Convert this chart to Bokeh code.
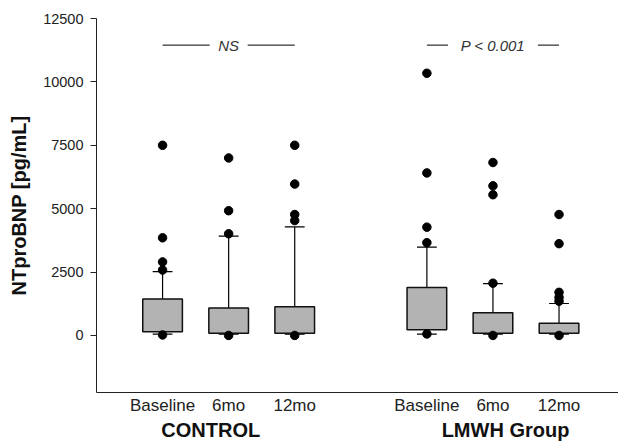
from bokeh.plotting import figure
from bokeh.models import FixedTicker, Range1d, ColumnDataSource
from bokeh.layouts import column
from bokeh.embed import file_html
from bokeh.resources import INLINE
from bokeh.core.properties import value

# ---- data ----
positions = [1, 2, 3, 5, 6, 7]
time_labels = ["Baseline", "6mo", "12mo", "Baseline", "6mo", "12mo"]
q1 = [150, 90, 90, 220, 90, 90]
median = [490, 350, 250, 590, 250, 250]
q3 = [1440, 1080, 1130, 1890, 900, 480]
upper = [2520, 3920, 4280, 3480, 2040, 1260]
lower = [50, 50, 50, 50, 50, 50]
outliers = [
    [7500, 3850, 2900, 2580, 20],
    [7000, 4920, 4010, 0],
    [7500, 5970, 4770, 4530, 0],
    [10340, 6410, 4270, 3660, 60],
    [6820, 5900, 5550, 2060, 0],
    [4770, 3620, 1700, 1500, 1350, 0],
]
groups = ["CONTROL", "LMWH Group"]
group_members = [[1, 2, 3], [5, 6, 7]]
group_label_x = [1.73, 6.19]
sig_text = ["NS", "P < 0.001"]
sig_level = 11450
y_ticks = [0, 2500, 5000, 7500, 10000, 12500]

FONT = "Liberation Sans"
BOX_W = 0.6
CAP_W = 0.3

p = figure(width=618, height=418, output_backend="svg", toolbar_location=None,
           x_range=Range1d(0, 7.9), y_range=Range1d(-2250, 12500),
           min_border_left=96, min_border_right=0, min_border_top=18,
           min_border_bottom=26)
p.outline_line_color = None
p.grid.visible = False
p.background_fill_color = "white"

# boxes
src = ColumnDataSource(dict(x=positions, q1=q1, q3=q3, med=median, up=upper, lo=lower))
p.segment(x0="x", y0="q3", x1="x", y1="up", source=src, line_color="black", line_width=1.2)
p.segment(x0="x", y0="q1", x1="x", y1="lo", source=src, line_color="black", line_width=1.2)
cap_src = ColumnDataSource(dict(
    x0=[x - CAP_W / 2 for x in positions] * 2,
    x1=[x + CAP_W / 2 for x in positions] * 2,
    y=upper + lower))
p.segment(x0="x0", y0="y", x1="x1", y1="y", source=cap_src, line_color="black", line_width=1.2)
p.vbar(x="x", width=BOX_W, bottom="q1", top="q3", source=src,
       fill_color="#b3b3b3", line_color="#111111", line_width=1.5)
p.rect(x="x", y="med", width=BOX_W, height=0, source=src, line_color="#111111", line_width=1.5)

ox, oy = [], []
for x, vals in zip(positions, outliers):
    for v in vals:
        ox.append(x)
        oy.append(v)
p.scatter(ox, oy, size=8.5, color="black")

# significance brackets
gap_px = [19, 45]
px_per_unit = 66.1
for members, txt, gp in zip(group_members, sig_text, gap_px):
    c = sum(members) / len(members)
    h = gp / px_per_unit
    p.segment(x0=[members[0], c + h], y0=[sig_level] * 2,
              x1=[c - h, members[-1]], y1=[sig_level] * 2,
              line_color="black", line_width=1)
    p.text(x=[c], y=[sig_level], text=[txt], text_font=value(FONT),
           text_font_style="italic", text_font_size="15px", text_color="#333333",
           text_align="center", text_baseline="middle")

# y axis
ya = p.yaxis[0]
ya.ticker = FixedTicker(ticks=y_ticks)
ya.minor_tick_line_color = None
ya.major_tick_out = 6
ya.major_tick_in = 0
ya.major_label_standoff = 7
ya.major_label_text_font = FONT
ya.major_label_text_font_size = "14.5px"
ya.major_label_text_color = "#222222"
ya.axis_line_color = "#222222"
ya.major_tick_line_color = "#222222"
ya.axis_label = "NTproBNP [pg/mL]"
ya.axis_label_text_font = FONT
ya.axis_label_text_font_style = "bold"
ya.axis_label_text_font_size = "20px"
ya.axis_label_text_color = "#111111"
ya.axis_label_standoff = 10

# x axis (time points)
xa = p.xaxis[0]
xa.ticker = FixedTicker(ticks=positions)
xa.major_label_overrides = {pos: lab for pos, lab in zip(positions, time_labels)}
xa.major_tick_line_color = None
xa.minor_tick_line_color = None
xa.major_tick_out = 0
xa.major_tick_in = 0
xa.major_label_standoff = 3
xa.major_label_text_font = FONT
xa.major_label_text_font_size = "17px"
xa.major_label_text_color = "#222222"
xa.axis_line_color = "#222222"

# group labels strip (shares the x scale)
g = figure(width=618, height=25, output_backend="svg", toolbar_location=None,
           x_range=p.x_range, y_range=Range1d(0, 1),
           min_border_left=96, min_border_right=0, min_border_top=0,
           min_border_bottom=0)
g.xaxis.visible = False
g.yaxis.visible = False
g.grid.visible = False
g.outline_line_color = None
g.text(x=group_label_x, y=[1.0] * len(groups), text=groups, text_font=value(FONT),
       text_font_style="bold", text_font_size="20px", text_color="#111111",
       text_align="center", text_baseline="top")

layout = column(p, g, spacing=0)
open("out.html", "w").write(file_html(layout, INLINE))
